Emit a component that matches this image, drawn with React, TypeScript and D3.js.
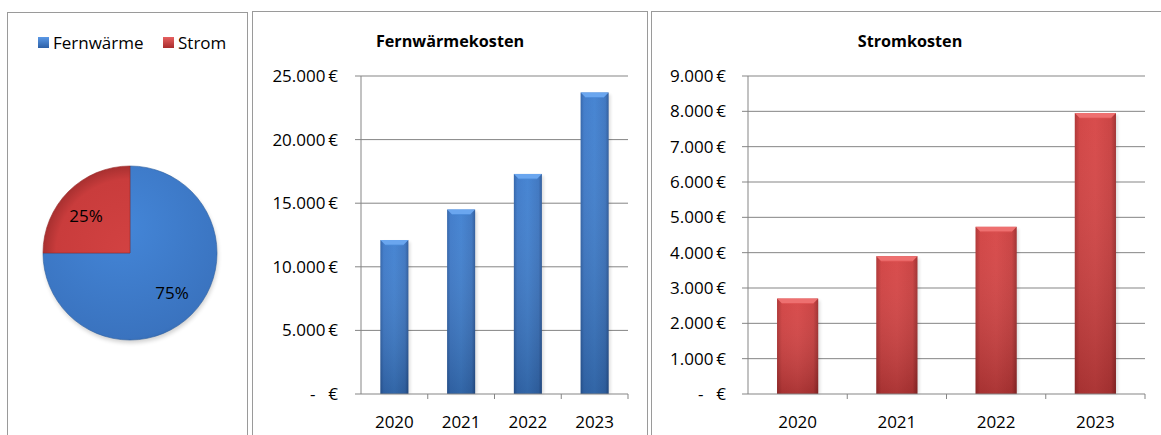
import React from "react";
import * as d3 from "d3";

const years = ["2020", "2021", "2022", "2023"];
const fernwaermeKosten = [12100, 14500, 17300, 23700];
const stromKosten = [2700, 3900, 4730, 7950];
const pieLabels = ["Fernwärme", "Strom"];
const pieShares = [75, 25];
const fernTicks = [0, 5000, 10000, 15000, 20000, 25000];
const stromTicks = [0, 1000, 2000, 3000, 4000, 5000, 6000, 7000, 8000, 9000];

const FONT = "'Open Sans', 'DejaVu Sans', sans-serif";
const GRID = "#858585";
const BORDER = "#9a9a9a";

const de = d3.formatLocale({ decimal: ",", thousands: ".", grouping: [3], currency: ["", " €"] });
const fmt = de.format(",.0f");

type BarProps = {
  title: string;
  values: number[];
  ticks: number[];
  max: number;
  x0: number;
  x1: number;
  yTop: number;
  yZero: number;
  titleX: number;
  labelRight: number;
  barFrac: number;
  color: "blue" | "red";
};

function BarPanel(p: BarProps) {
  const x = d3.scaleBand<string>().domain(years).range([p.x0, p.x1]);
  const y = d3.scaleLinear().domain([0, p.max]).range([p.yZero, p.yTop]);
  const bw = x.bandwidth() * p.barFrac;
  const grad = p.color === "blue" ? "url(#blueH)" : "url(#redH)";
  const top = p.color === "blue" ? "#6aa6ef" : "#ee7070";
  const topDark = p.color === "blue" ? "#4a8ad8" : "#dd5050";
  return (
    <g>
      <text x={p.titleX} y={47} textAnchor="middle" fontFamily={FONT} fontWeight="bold" fontSize={16.2} fill="#000">
        {p.title}
      </text>
      {p.ticks.map((t) => (
        <g key={t}>
          {t > 0 && <line x1={p.x0 - 6} x2={p.x1} y1={y(t)} y2={y(t)} stroke={GRID} strokeWidth={1} />}
          {t > 0 ? (
            <text x={p.labelRight} y={y(t) + 6} textAnchor="end" fontFamily={FONT} fontSize={17} fill="#000">
              {fmt(t) + "\u2009€"}
            </text>
          ) : (
            <g>
              <text x={p.labelRight - 28} y={y(t) + 6} textAnchor="start" fontFamily={FONT} fontSize={17} fill="#000">-</text>
              <text x={p.labelRight} y={y(t) + 6} textAnchor="end" fontFamily={FONT} fontSize={17} fill="#000">€</text>
            </g>
          )}
        </g>
      ))}
      {p.values.map((v, i) => {
        const cx = (x(years[i]) as number) + x.bandwidth() / 2;
        const bx = cx - bw / 2;
        const by = y(v);
        const bh = p.yZero - by;
        const bev = 5;
        return (
          <g key={years[i]}>
            <rect x={bx + 2} y={by + 2} width={bw} height={bh - 2} fill="#000" opacity={0.12} filter="url(#blur)" />
            <rect x={bx} y={by} width={bw} height={bh} fill={grad} />
            <rect x={bx} y={by} width={bw} height={bh} fill="url(#shadeV)" />
            <polygon
              points={`${bx},${by} ${bx + bw},${by} ${bx + bw - bev},${by + bev} ${bx + bev},${by + bev}`}
              fill={top}
            />
            <line x1={bx + bev} x2={bx + bw - bev} y1={by + bev} y2={by + bev} stroke={topDark} strokeWidth={0.8} />
          </g>
        );
      })}
      <line x1={p.x0} x2={p.x0} y1={p.yTop} y2={p.yZero} stroke={GRID} strokeWidth={1} />
      <line x1={p.x0 - 6} x2={p.x1} y1={p.yZero} y2={p.yZero} stroke={GRID} strokeWidth={1} />
      {years.map((yr, i) => (
        <line
          key={"t" + yr}
          x1={p.x0 + x.step() * (i + 1)}
          x2={p.x0 + x.step() * (i + 1)}
          y1={p.yZero}
          y2={p.yZero + 5}
          stroke={GRID}
          strokeWidth={1}
        />
      ))}
      {years.map((yr) => (
        <text
          key={"l" + yr}
          x={(x(yr) as number) + x.bandwidth() / 2}
          y={428}
          textAnchor="middle"
          fontFamily={FONT}
          fontSize={17}
          fill="#000"
        >
          {yr}
        </text>
      ))}
    </g>
  );
}

export default function App() {
  const cx = 130;
  const cy = 253;
  const r = 87;
  const pie = d3.pie<number>().sort(null)(pieShares);
  const arc = d3.arc<d3.PieArcDatum<number>>().innerRadius(0).outerRadius(r);
  const labelArc = d3.arc<d3.PieArcDatum<number>>().innerRadius(r * 0.62).outerRadius(r * 0.62);
  const pieFills = ["url(#pieBlue)", "url(#pieRed)"];
  const legendX = [38, 163];

  return (
    <svg width={1161} height={435} style={{ position: "absolute", left: 0, top: 0, background: "#fff" }}>
      <defs>
        <linearGradient id="blueH" x1="0" x2="1" y1="0" y2="0">
          <stop offset="0" stopColor="#2c5fa6" />
          <stop offset="0.12" stopColor="#3a77c8" />
          <stop offset="0.5" stopColor="#3e7fd0" />
          <stop offset="0.88" stopColor="#3872bf" />
          <stop offset="1" stopColor="#285698" />
        </linearGradient>
        <linearGradient id="redH" x1="0" x2="1" y1="0" y2="0">
          <stop offset="0" stopColor="#ac2e2e" />
          <stop offset="0.12" stopColor="#d03e3e" />
          <stop offset="0.5" stopColor="#d64343" />
          <stop offset="0.88" stopColor="#c83b3b" />
          <stop offset="1" stopColor="#9c2929" />
        </linearGradient>
        <linearGradient id="shadeV" x1="0" x2="0" y1="0" y2="1">
          <stop offset="0" stopColor="#fff" stopOpacity={0.05} />
          <stop offset="1" stopColor="#000" stopOpacity={0.2} />
        </linearGradient>
        <radialGradient id="pieBlue" cx="0.45" cy="0.35" r="0.75">
          <stop offset="0" stopColor="#4486d8" />
          <stop offset="0.85" stopColor="#3a73bf" />
          <stop offset="1" stopColor="#2c5c9e" />
        </radialGradient>
        <radialGradient id="pieRed" cx="1" cy="1" r="1">
          <stop offset="0" stopColor="#d24242" />
          <stop offset="0.85" stopColor="#c93c3c" />
          <stop offset="1" stopColor="#a83030" />
        </radialGradient>
        <linearGradient id="legBlue" x1="0" x2="0" y1="0" y2="1">
          <stop offset="0" stopColor="#5a98e6" />
          <stop offset="1" stopColor="#2d60a6" />
        </linearGradient>
        <linearGradient id="legRed" x1="0" x2="0" y1="0" y2="1">
          <stop offset="0" stopColor="#e66060" />
          <stop offset="1" stopColor="#a82c2c" />
        </linearGradient>
        <filter id="blur" x="-20%" y="-20%" width="140%" height="140%">
          <feGaussianBlur stdDeviation="1.5" />
        </filter>
        <filter id="pieShadow" x="-20%" y="-20%" width="140%" height="140%">
          <feGaussianBlur stdDeviation="2" />
        </filter>
      </defs>

      {/* panel borders */}
      <rect x={7.5} y={12.5} width={240} height={440} fill="none" stroke={BORDER} />
      <rect x={252.5} y={11.5} width={395} height={440} fill="none" stroke={BORDER} />
      <rect x={651.5} y={11.5} width={520} height={440} fill="none" stroke={BORDER} />

      {/* legend */}
      {pieLabels.map((l, i) => (
        <g key={l}>
          <rect x={legendX[i]} y={37} width={11} height={11} fill={i === 0 ? "url(#legBlue)" : "url(#legRed)"} />
          <text x={legendX[i] + 15} y={48.5} fontFamily={FONT} fontSize={17} fill="#000">
            {l}
          </text>
        </g>
      ))}

      {/* pie */}
      <circle cx={cx + 1} cy={cy + 3} r={r} fill="#000" opacity={0.18} filter="url(#pieShadow)" />
      <g transform={`translate(${cx},${cy})`}>
        {pie.map((d, i) => (
          <path key={i} d={arc(d) || ""} fill={pieFills[i]} stroke={i === 0 ? "#2e5f9f" : "#9a2c2c"} strokeWidth={0.6} />
        ))}
        {pie.map((d, i) => {
          const [lx, ly] = labelArc.centroid(d);
          const off = i === 0 ? [42 - lx, 40 - ly] : [-44 - lx, -37 - ly];
          return (
            <text
              key={"l" + i}
              x={lx + off[0]}
              y={ly + off[1] + 6}
              textAnchor="middle"
              fontFamily={FONT}
              fontSize={17}
              fill="#000"
            >
              {pieShares[i] + "%"}
            </text>
          );
        })}
      </g>

      <BarPanel
        title="Fernwärmekosten"
        values={fernwaermeKosten}
        ticks={fernTicks}
        max={25000}
        x0={361}
        x1={628}
        yTop={76}
        yZero={394}
        titleX={450}
        labelRight={338}
        barFrac={0.42}
        color="blue"
      />
      <BarPanel
        title="Stromkosten"
        values={stromKosten}
        ticks={stromTicks}
        max={9000}
        x0={748}
        x1={1145}
        yTop={76}
        yZero={394}
        titleX={910}
        labelRight={726}
        barFrac={0.415}
        color="red"
      />
    </svg>
  );
}
